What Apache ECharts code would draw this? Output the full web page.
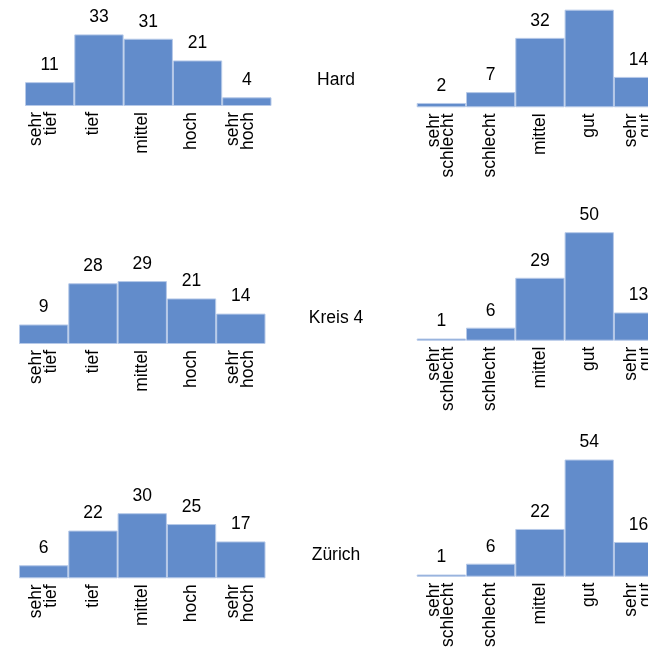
<!DOCTYPE html>
<html>
<head>
<meta charset="utf-8">
<script src="https://cdn.jsdelivr.net/npm/echarts@6/dist/echarts.min.js"></script>
<style>
html,body{margin:0;padding:0;background:#fff;overflow:hidden;width:648px;height:654px;}
#chart{position:absolute;left:0;top:-40px;width:720px;height:694px;}
</style>
</head>
<body>
<div id="chart"></div>
<script>
// ---- data ----
var regions = ['Hard', 'Kreis 4', 'Zürich'];
var levelCategories = ['sehr\ntief', 'tief', 'mittel', 'hoch', 'sehr\nhoch'];
var qualityCategories = ['sehr\nschlecht', 'schlecht', 'mittel', 'gut', 'sehr\ngut'];
var hardLevel = [11, 33, 31, 21, 4];
var hardQuality = [2, 7, 32, 45, 14];
var kreis4Level = [9, 28, 29, 21, 14];
var kreis4Quality = [1, 6, 29, 50, 13];
var zuerichLevel = [6, 22, 30, 25, 17];
var zuerichQuality = [1, 6, 22, 54, 16];

// ---- layout ----
var OFFY = 40; // chart canvas starts 40px above the window
var FONT = "'Liberation Sans', Arial, sans-serif";
var YMAX = 60, H = 130.2, W = 246.5;
var panels = [
  {left: 25,    base: 106,   cats: levelCategories,   data: hardLevel,     labelLeft: 19},
  {left: 416.7, base: 107.3, cats: qualityCategories, data: hardQuality,   labelLeft: 416.7},
  {left: 19,    base: 344,   cats: levelCategories,   data: kreis4Level,   labelLeft: 19},
  {left: 416.7, base: 340.7, cats: qualityCategories, data: kreis4Quality, labelLeft: 416.7},
  {left: 19,    base: 578.3, cats: levelCategories,   data: zuerichLevel,  labelLeft: 19},
  {left: 416.7, base: 576.7, cats: qualityCategories, data: zuerichQuality,labelLeft: 416.7}
];
var labelPos = [{x: 336, y: 80}, {x: 336, y: 318}, {x: 336, y: 555}];

var grids = [], xAxes = [], yAxes = [], series = [];
function labelStyle(show) {
  return {
    show: show, interval: 0, rotate: 90, margin: 6, color: '#000',
    fontFamily: FONT, fontSize: 17.5, lineHeight: 14.5
  };
}
panels.forEach(function (p, i) {
  var sameAxis = Math.abs(p.labelLeft - p.left) < 0.5;
  var gi = grids.length;
  grids.push({left: p.left, top: p.base - H + OFFY, width: W, height: H, containLabel: false});
  xAxes.push({
    type: 'category', gridIndex: gi, data: p.cats, boundaryGap: true,
    axisLine: {show: false}, axisTick: {show: false}, splitLine: {show: false},
    axisLabel: labelStyle(sameAxis)
  });
  yAxes.push({type: 'value', gridIndex: gi, min: 0, max: YMAX, show: false, splitLine: {show: false}});
  series.push({
    type: 'bar', xAxisIndex: gi, yAxisIndex: gi, data: p.data,
    barCategoryGap: '0%', barGap: '0%',
    itemStyle: {color: '#628ccb', borderColor: '#b6c9e8', borderWidth: 1},
    label: {show: true, position: 'top', distance: 8, color: '#000', fontFamily: FONT, fontSize: 17.5},
    silent: true, animation: false
  });
  if (!sameAxis) {
    // label-only axis, offset from the bars as in the reference
    var li = grids.length;
    grids.push({left: p.labelLeft, top: p.base - H + OFFY, width: W, height: H, containLabel: false});
    xAxes.push({
      type: 'category', gridIndex: li, data: p.cats, boundaryGap: true,
      axisLine: {show: false}, axisTick: {show: false}, splitLine: {show: false},
      axisLabel: labelStyle(true)
    });
    yAxes.push({type: 'value', gridIndex: li, min: 0, max: YMAX, show: false, splitLine: {show: false}});
  }
});

var graphics = regions.map(function (name, i) {
  return {
    type: 'text', x: labelPos[i].x, y: labelPos[i].y + OFFY,
    style: {text: name, fill: '#000', font: '17.5px ' + FONT, textAlign: 'center', textVerticalAlign: 'middle'}
  };
});

var chart = echarts.init(document.getElementById('chart'), null, {renderer: 'canvas'});
chart.setOption({
  backgroundColor: '#ffffff',
  animation: false,
  grid: grids,
  xAxis: xAxes,
  yAxis: yAxes,
  series: series,
  graphic: graphics
});
</script>
</body>
</html>
